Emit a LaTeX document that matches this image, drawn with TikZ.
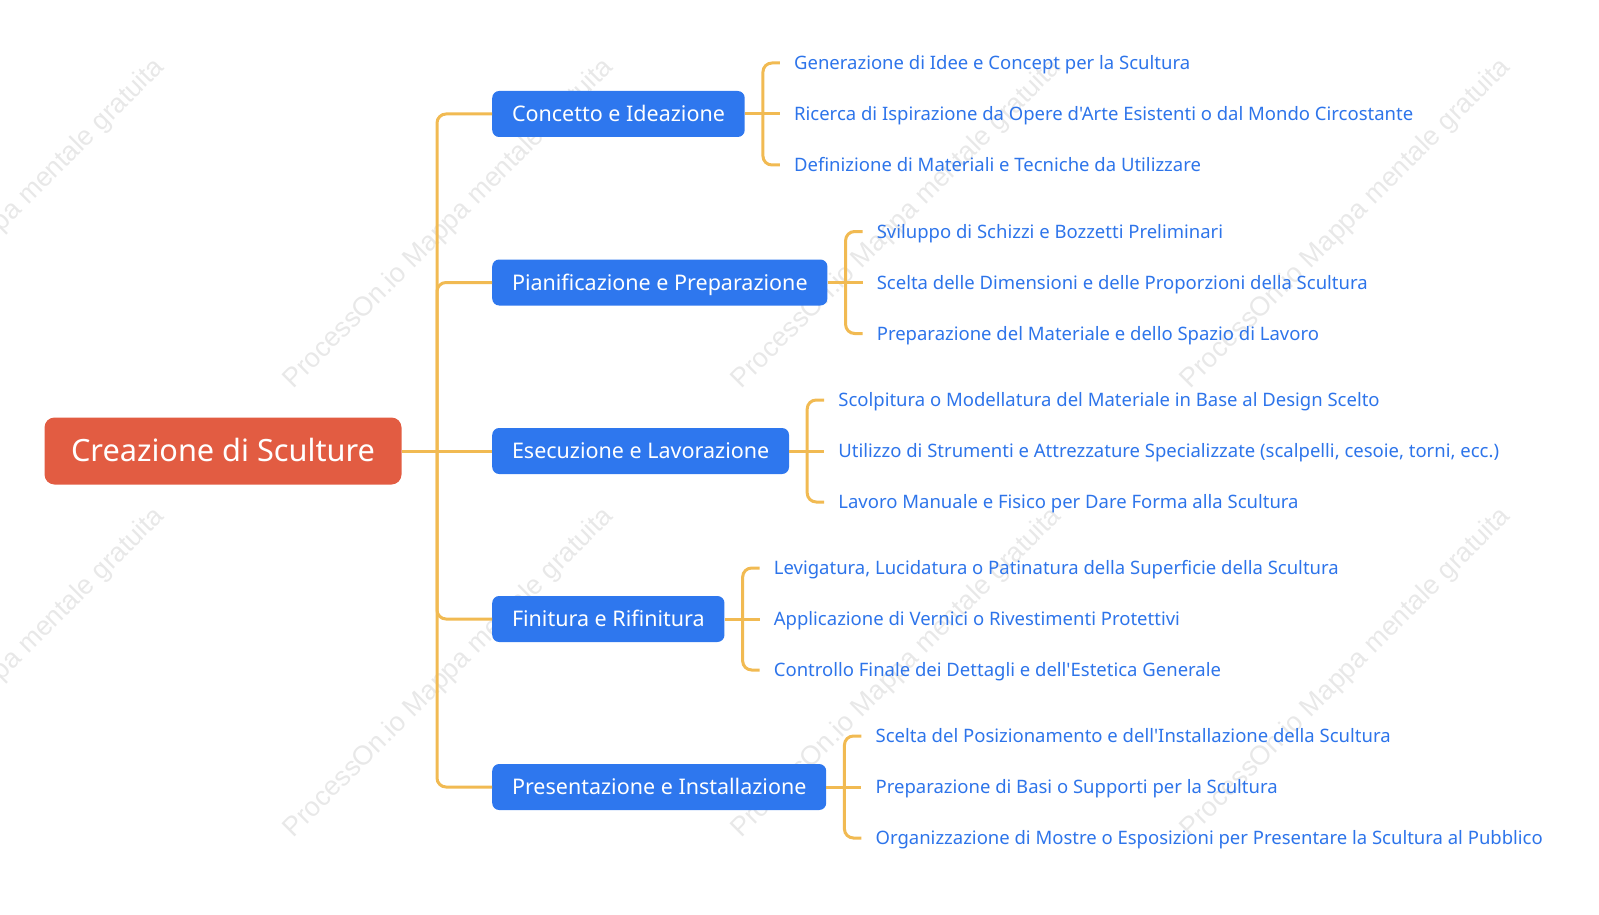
\documentclass[tikz,border=0pt]{standalone}
\usepackage{fontspec}
\setmainfont{Noto Sans}[Ligatures=TeXOff]
\newfontfamily\wmfont{Liberation Sans}
\usetikzlibrary{positioning}
\definecolor{rootred}{HTML}{E25C42}
\definecolor{topicblue}{HTML}{2E77EE}
\definecolor{leafblue}{HTML}{2D74EA}
\definecolor{linkgold}{HTML}{F1BA52}
\tikzset{
	rootbox/.style={fill=rootred, text=white, rounded corners=10pt, minimum width=357pt, minimum height=67pt, inner sep=0pt, text height=21.9pt, text depth=0pt, font=\fontsize{30.7}{36}\selectfont},
	topicbox/.style={fill=topicblue, text=white, rounded corners=7pt, minimum height=46pt, inner xsep=19.8pt, inner ysep=0pt, text height=15.4pt, text depth=0pt, anchor=west, font=\fontsize{21.5}{26}\selectfont},
	leaf/.style={text=leafblue, inner xsep=14pt, inner ysep=2pt, text height=13.3pt, text depth=0pt, anchor=west, font=\fontsize{18.5}{22}\selectfont},
	link/.style={draw=linkgold, line width=3pt, rounded corners=9pt},
	watermark/.style={text=black!9, rotate=45, font=\wmfont\fontsize{27}{32}\selectfont}
}
\begin{document}
\begin{tikzpicture}[x=1pt,y=-1pt]
	\useasboundingbox (0,0) rectangle (1599,915);
	% watermarks
	\node[watermark] at (0,224) {ProcessOn.io Mappa mentale gratuita};
	\node[watermark] at (449,224) {ProcessOn.io Mappa mentale gratuita};
	\node[watermark] at (897,224) {ProcessOn.io Mappa mentale gratuita};
	\node[watermark] at (1346,224) {ProcessOn.io Mappa mentale gratuita};
	\node[watermark] at (0,673) {ProcessOn.io Mappa mentale gratuita};
	\node[watermark] at (449,673) {ProcessOn.io Mappa mentale gratuita};
	\node[watermark] at (897,673) {ProcessOn.io Mappa mentale gratuita};
	\node[watermark] at (1346,673) {ProcessOn.io Mappa mentale gratuita};
	% root and topics
	\node[rootbox] (root) at (223,451) {Creazione di Sculture};
	\coordinate (hub) at (437,451);
	\node[topicbox] (concetto) at (492,114) {Concetto e Ideazione};
	\node[topicbox] (pianif) at (492,282.5) {Pianificazione e Preparazione};
	\node[topicbox] (esec) at (492,451) {Esecuzione e Lavorazione};
	\node[topicbox] (finit) at (492,619) {Finitura e Rifinitura};
	\node[topicbox] (present) at (492,787) {Presentazione e Installazione};
	\draw[link] (root.east) -- (hub);
	\draw[link] (hub) |- (concetto.west);
	\draw[link] (hub) |- (pianif.west);
	\draw[link] (hub) -- (esec.west);
	\draw[link] (hub) |- (finit.west);
	\draw[link] (hub) |- (present.west);
	% concetto
	\coordinate (kc) at ([xshift=18pt]concetto.east);
	\node[leaf] (c1) at ([xshift=17pt,yshift=51pt]kc) {Generazione di Idee e Concept per la Scultura};
	\node[leaf] (c2) at ([xshift=17pt]kc) {Ricerca di Ispirazione da Opere d'Arte Esistenti o dal Mondo Circostante};
	\node[leaf] (c3) at ([xshift=17pt,yshift=-51pt]kc) {Definizione di Materiali e Tecniche da Utilizzare};
	\draw[link] (concetto.east) -- (c2.west);
	\draw[link] (kc) |- (c1.west);
	\draw[link] (kc) |- (c3.west);
	% pianificazione
	\coordinate (kp) at ([xshift=18pt]pianif.east);
	\node[leaf] (p1) at ([xshift=17pt,yshift=51pt]kp) {Sviluppo di Schizzi e Bozzetti Preliminari};
	\node[leaf] (p2) at ([xshift=17pt]kp) {Scelta delle Dimensioni e delle Proporzioni della Scultura};
	\node[leaf] (p3) at ([xshift=17pt,yshift=-51pt]kp) {Preparazione del Materiale e dello Spazio di Lavoro};
	\draw[link] (pianif.east) -- (p2.west);
	\draw[link] (kp) |- (p1.west);
	\draw[link] (kp) |- (p3.west);
	% esecuzione
	\coordinate (ke) at ([xshift=18pt]esec.east);
	\node[leaf] (e1) at ([xshift=17pt,yshift=51pt]ke) {Scolpitura o Modellatura del Materiale in Base al Design Scelto};
	\node[leaf] (e2) at ([xshift=17pt]ke) {Utilizzo di Strumenti e Attrezzature Specializzate (scalpelli, cesoie, torni, ecc.)};
	\node[leaf] (e3) at ([xshift=17pt,yshift=-51pt]ke) {Lavoro Manuale e Fisico per Dare Forma alla Scultura};
	\draw[link] (esec.east) -- (e2.west);
	\draw[link] (ke) |- (e1.west);
	\draw[link] (ke) |- (e3.west);
	% finitura
	\coordinate (kf) at ([xshift=18pt]finit.east);
	\node[leaf] (f1) at ([xshift=17pt,yshift=51pt]kf) {Levigatura, Lucidatura o Patinatura della Superficie della Scultura};
	\node[leaf] (f2) at ([xshift=17pt]kf) {Applicazione di Vernici o Rivestimenti Protettivi};
	\node[leaf] (f3) at ([xshift=17pt,yshift=-51pt]kf) {Controllo Finale dei Dettagli e dell'Estetica Generale};
	\draw[link] (finit.east) -- (f2.west);
	\draw[link] (kf) |- (f1.west);
	\draw[link] (kf) |- (f3.west);
	% presentazione
	\coordinate (ks) at ([xshift=18pt]present.east);
	\node[leaf] (s1) at ([xshift=17pt,yshift=51pt]ks) {Scelta del Posizionamento e dell'Installazione della Scultura};
	\node[leaf] (s2) at ([xshift=17pt]ks) {Preparazione di Basi o Supporti per la Scultura};
	\node[leaf] (s3) at ([xshift=17pt,yshift=-51pt]ks) {Organizzazione di Mostre o Esposizioni per Presentare la Scultura al Pubblico};
	\draw[link] (present.east) -- (s2.west);
	\draw[link] (ks) |- (s1.west);
	\draw[link] (ks) |- (s3.west);
\end{tikzpicture}
\end{document}
